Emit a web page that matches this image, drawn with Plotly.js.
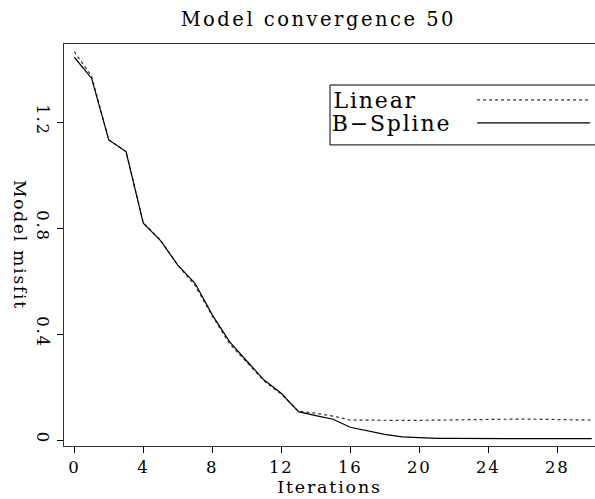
<!DOCTYPE html>
<html>
<head>
<meta charset="utf-8">
<script src="https://cdn.plot.ly/plotly-3.0.1.min.js"></script>
<style>
html, body { margin: 0; padding: 0; background: #fff; }
#chart { width: 595px; height: 499px; }
#chart svg text { letter-spacing: 1.8px; }
#chart svg .gtitle { letter-spacing: 2.5px; }
</style>
</head>
<body>
<div id="chart"></div>
<script>
// Data
const iterations = [0,1,2,3,4,5,6,7,8,9,10,11,12,13,14,15,16,17,18,19,20,21,22,23,24,25,26,27,28,29,30];
const linearMisfit = [1.467,1.375,1.134,1.090,0.821,0.756,0.662,0.585,0.470,0.365,0.295,0.225,0.175,0.110,0.103,0.092,0.077,0.076,0.076,0.076,0.076,0.077,0.078,0.079,0.080,0.081,0.081,0.080,0.079,0.078,0.077];
const bsplineMisfit = [1.446,1.367,1.134,1.090,0.820,0.754,0.662,0.593,0.474,0.373,0.300,0.228,0.178,0.109,0.094,0.080,0.050,0.037,0.023,0.014,0.011,0.008,0.008,0.007,0.007,0.007,0.007,0.007,0.007,0.007,0.007];
const seriesNames = ["Linear", "B\u2212Spline"];
const xTicks = [0,4,8,12,16,20,24,28];
const yTicks = [0,0.4,0.8,1.2];
const yTickText = ["0","0.4","0.8","1.2"];

const FONT = "DejaVu Serif, Liberation Serif, serif";

const traces = [
  {x: iterations, y: linearMisfit, type: "scatter", mode: "lines", name: seriesNames[0],
   line: {color: "#333", width: 1.2, dash: "3px,3px"}, showlegend: false},
  {x: iterations, y: bsplineMisfit, type: "scatter", mode: "lines", name: seriesNames[1],
   line: {color: "#000", width: 1.2}, showlegend: false}
];

const layout = {
  width: 595, height: 499,
  margin: {l: 64, r: 0, t: 44, b: 53},
  paper_bgcolor: "#fff", plot_bgcolor: "#fff",
  font: {family: FONT, color: "#000", size: 16},
  title: {text: "Model convergence 50", font: {family: FONT, size: 19.5, color: "#000"},
          x: 0.535, xanchor: "center", y: 0.962, yanchor: "middle"},
  xaxis: {range: [-0.597, 30.19], tickvals: xTicks, ticks: "outside", ticklen: 6, tickcolor: "#000",
          showgrid: false, zeroline: false, showline: true, mirror: true, linecolor: "#333", linewidth: 1,
          tickfont: {family: FONT, size: 16.5, color: "#000"},
          title: {text: "Iterations", font: {family: FONT, size: 17.5, color: "#000"}, standoff: 2}},
  yaxis: {range: [-0.0208, 1.496], tickvals: yTicks, ticktext: yTickText, tickangle: 90, ticks: "outside", ticklen: 6,
          tickcolor: "#000", showgrid: false, zeroline: false, showline: true, mirror: true, linecolor: "#333", linewidth: 1,
          tickfont: {family: FONT, size: 16.5, color: "#000"}},
  shapes: [
    {type: "rect", xref: "paper", yref: "paper", x0: 0.501, x1: 1.02, y0: 0.749, y1: 0.898,
     line: {color: "#000", width: 1}, fillcolor: "rgba(0,0,0,0)"},
    {type: "line", xref: "paper", yref: "paper", x0: 0.778, x1: 0.991, y0: 0.861, y1: 0.861,
     line: {color: "#333", width: 1.2, dash: "3px,3px"}},
    {type: "line", xref: "paper", yref: "paper", x0: 0.778, x1: 0.991, y0: 0.804, y1: 0.804,
     line: {color: "#000", width: 1.2}}
  ],
  annotations: [
    {text: seriesNames[0], xref: "paper", yref: "paper", x: 0.514, y: 0.86, xanchor: "left", yanchor: "middle",
     showarrow: false, font: {family: FONT, size: 22, color: "#000"}},
    {text: seriesNames[1], xref: "paper", yref: "paper", x: 0.514, y: 0.802, xanchor: "left", yanchor: "middle",
     showarrow: false, font: {family: FONT, size: 22, color: "#000"}},
    {text: "Model misfit", xref: "paper", yref: "paper", x: -0.083, y: 0.5, xanchor: "center", yanchor: "middle",
     textangle: 90, showarrow: false, font: {family: FONT, size: 17, color: "#000"}}
  ]
};

Plotly.newPlot("chart", traces, layout, {staticPlot: true, displayModeBar: false});
</script>
</body>
</html>
